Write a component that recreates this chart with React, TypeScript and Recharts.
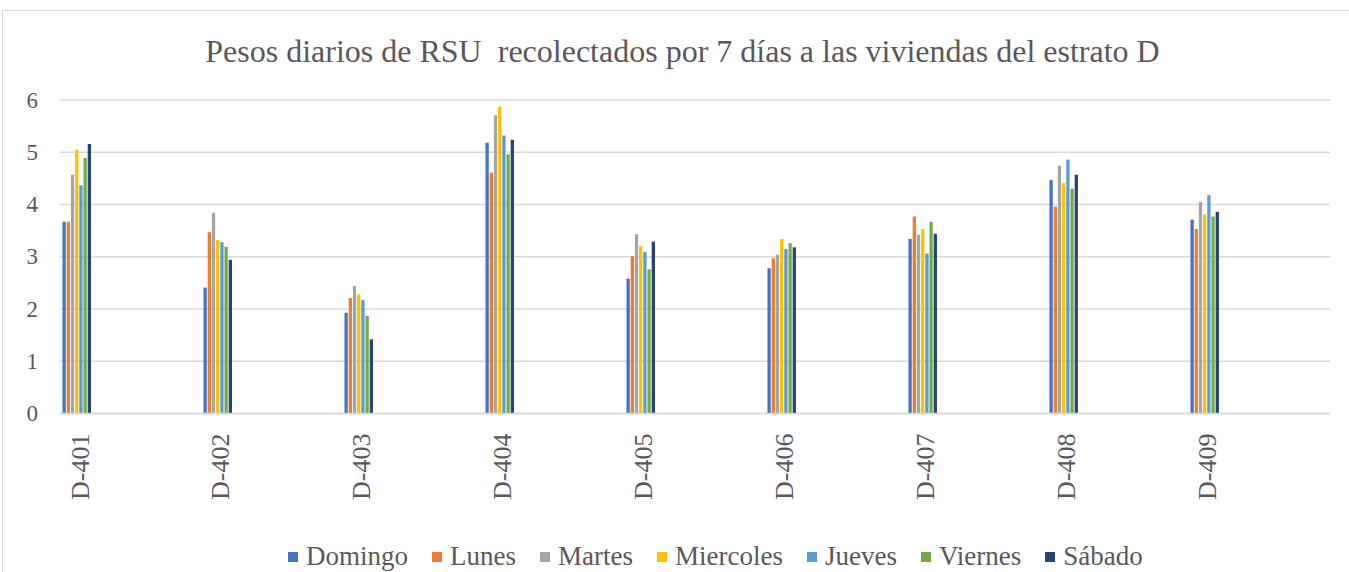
import { BarChart, Bar, XAxis, YAxis, CartesianGrid } from 'recharts'

// Pesos diarios (kg) por vivienda, estrato D
const categories = ['D-401', 'D-402', 'D-403', 'D-404', 'D-405', 'D-406', 'D-407', 'D-408', 'D-409']
const domingo = [3.67, 2.41, 1.93, 5.18, 2.58, 2.78, 3.34, 4.47, 3.71]
const lunes = [3.67, 3.47, 2.21, 4.61, 3.01, 2.97, 3.77, 3.96, 3.53]
const martes = [4.57, 3.84, 2.44, 5.71, 3.43, 3.04, 3.42, 4.74, 4.05]
const miercoles = [5.05, 3.32, 2.28, 5.87, 3.2, 3.34, 3.53, 4.41, 3.81]
const jueves = [4.37, 3.28, 2.17, 5.32, 3.09, 3.15, 3.06, 4.86, 4.18]
const viernes = [4.89, 3.19, 1.87, 4.96, 2.76, 3.26, 3.67, 4.3, 3.77]
const sabado = [5.16, 2.94, 1.42, 5.24, 3.29, 3.18, 3.44, 4.57, 3.86]
const yTicks = [0, 1, 2, 3, 4, 5, 6]

const series = [
  { key: 'Domingo', values: domingo, color: '#4472C4' },
  { key: 'Lunes', values: lunes, color: '#ED7D31' },
  { key: 'Martes', values: martes, color: '#A5A5A5' },
  { key: 'Miercoles', values: miercoles, color: '#FFC000' },
  { key: 'Jueves', values: jueves, color: '#5B9BD5' },
  { key: 'Viernes', values: viernes, color: '#70AD47' },
  { key: 'Sábado', values: sabado, color: '#264478' },
]

const data = categories.map((name, i) => {
  const row: Record<string, string | number> = { name, idx: i }
  series.forEach((s) => { row[s.key] = s.values[i] })
  return row
})

const FONT = '"Times New Roman", "Liberation Serif", serif'
const TXT = '#595959'

function XTick(props: any) {
  const { x, y, payload } = props
  return (
    <text
      x={x}
      y={y}
      transform={`rotate(-90, ${x}, ${y})`}
      textAnchor="end"
      dominantBaseline="central"
      dy={3}
      fontSize={26}
      style={{ fontFamily: FONT }}
      fill={TXT}
    >
      {categories[payload.value]}
    </text>
  )
}

function YTick(props: any) {
  const { x, y, payload } = props
  return (
    <text x={x} y={y} textAnchor="end" dominantBaseline="central" fontSize={23} style={{ fontFamily: FONT }} fill={TXT}>
      {payload.value}
    </text>
  )
}

export default function App() {
  return (
    <div style={{ position: 'relative', width: 1349, height: 572, background: '#fff', overflow: 'hidden', fontFamily: FONT }}>
      <style>{'body{margin:0}'}</style>
      <div style={{ position: 'absolute', left: 2, top: 10, width: 1400, height: 600, border: '1px solid #d9d9d9' }} />
      <div style={{ position: 'absolute', top: 33, left: 0, width: 1365, textAlign: 'center', fontSize: 32, color: TXT, whiteSpace: 'pre', fontFamily: FONT }}>
        {'Pesos diarios de RSU  recolectados por 7 días a las viviendas del estrato D'}
      </div>
      <div style={{ position: 'absolute', left: 0, top: 0 }}>
        <BarChart
          width={1349}
          height={572}
          data={data}
          margin={{ top: 100, right: 19, bottom: 0, left: 0 }}
          barGap={0.9}
          barSize={3.3}
        >
          <CartesianGrid vertical={false} stroke="#d9d9d9" strokeWidth={1.5} />
          <XAxis
            dataKey="idx"
            type="number"
            domain={[-0.1206, 8.887]}
            ticks={categories.map((_, i) => i)}
            allowDataOverflow
            height={158.5}
            axisLine={{ stroke: '#d9d9d9', strokeWidth: 1.5 }}
            tickLine={false}
            tickSize={0}
            tickMargin={20}
            tick={<XTick />}
            interval={0}
          />
          <YAxis
            domain={[0, 6]}
            ticks={yTicks}
            width={60}
            axisLine={false}
            tickLine={false}
            tickSize={0}
            tickMargin={22}
            tick={<YTick />}
          />
          {series.map((s) => (
            <Bar key={s.key} dataKey={s.key} fill={s.color} isAnimationActive={false} />
          ))}
        </BarChart>
      </div>
      <div style={{ position: 'absolute', top: 541, left: 288, display: 'flex', alignItems: 'center', fontSize: 27, color: TXT, fontFamily: FONT }}>
        {series.map((s) => (
          <div key={s.key} style={{ display: 'flex', alignItems: 'center', marginRight: 24 }}>
            <span style={{ display: 'inline-block', width: 10, height: 10, background: s.color, marginRight: 8 }} />
            <span>{s.key}</span>
          </div>
        ))}
      </div>
    </div>
  )
}
